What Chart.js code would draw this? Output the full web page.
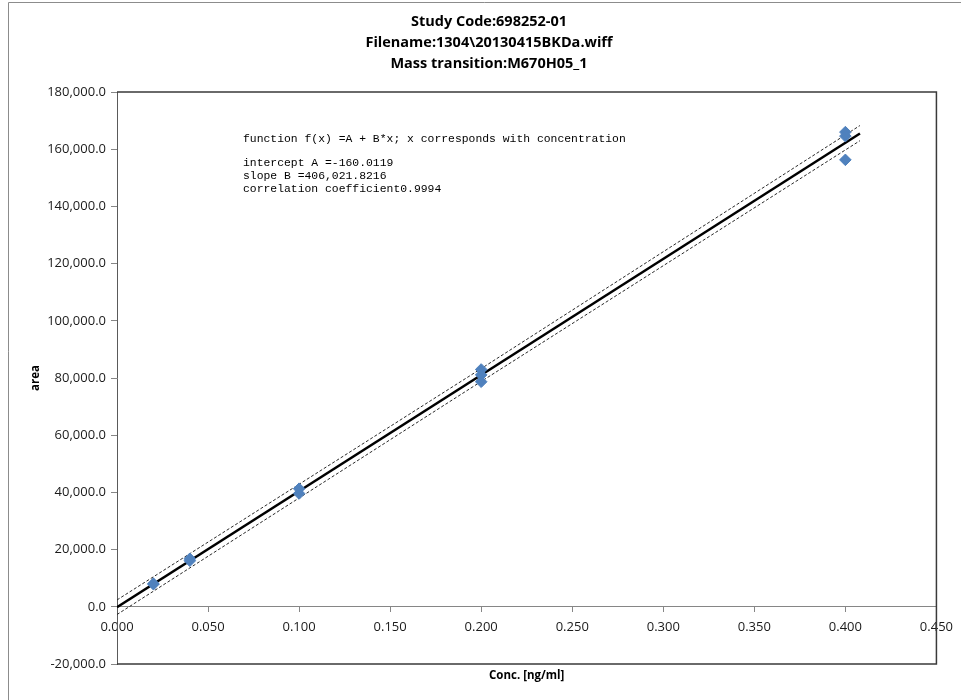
<!DOCTYPE html>
<html>
<head>
<meta charset="utf-8">
<script src="https://cdn.jsdelivr.net/npm/chart.js@4/dist/chart.umd.min.js"></script>
<style>
  html, body { margin: 0; padding: 0; background: #ffffff; }
  #wrap { width: 961px; height: 700px; position: relative; }
</style>
</head>
<body>
<div id="wrap"><canvas id="cal"></canvas></div>
<script>
// Calibration standards: nominal concentration [ng/ml] and measured peak area
const concentrations = [0.02, 0.02, 0.04, 0.04, 0.1, 0.1, 0.2, 0.2, 0.2, 0.4, 0.4, 0.4];
const areas = [7900, 8100, 16100, 16800, 39600, 41300, 83000, 81100, 78700, 166000, 164600, 156300];

// Linear fit f(x) = A + B*x
const FIT_INTERCEPT = -160.0119;
const FIT_SLOPE = 406021.8216;
const FIT_R = 0.9994;
const fitRange = [0, 0.408];

// Dashed confidence band around the fit
const bandX = [0, 0.2, 0.408];
const bandUpper = [2400, 83300, 168300];
const bandLower = [-2700, 78800, 163000];

// Axis ticks
const xTicks = { min: 0, max: 0.45, step: 0.05 };
const yTicks = { min: -20000, max: 180000, step: 20000 };

const titleLines = ['Study Code:698252-01', 'Filename:1304\\20130415BKDa.wiff', 'Mass transition:M670H05_1'];

const fmtArea = v => v.toLocaleString('en-US', { minimumFractionDigits: 1, maximumFractionDigits: 1 });
const fmtSlope = v => v.toLocaleString('en-US', { minimumFractionDigits: 4, maximumFractionDigits: 4 });

const annotationLines = [
  { text: 'function f(x) =A + B*x; x corresponds with concentration', dy: 0 },
  { text: 'intercept A =' + FIT_INTERCEPT.toFixed(4), dy: 24 },
  { text: 'slope B =' + fmtSlope(FIT_SLOPE), dy: 37 },
  { text: 'correlation coefficient' + FIT_R.toFixed(4), dy: 50 }
];

const points = concentrations.map((c, i) => ({ x: c, y: areas[i] }));
const fitLine = fitRange.map(x => ({ x: x, y: FIT_INTERCEPT + FIT_SLOPE * x }));
const upperLine = bandX.map((x, i) => ({ x: x, y: bandUpper[i] }));
const lowerLine = bandX.map((x, i) => ({ x: x, y: bandLower[i] }));

const LABEL_FONT = 'Open Sans';

// Outer chart frame, plot-area border and the fit summary text
const decorations = {
  id: 'decorations',
  beforeDraw(chart) {
    const ctx = chart.ctx;
    ctx.save();
    ctx.strokeStyle = '#8c8c8c';
    ctx.lineWidth = 1;
    ctx.beginPath();
    ctx.moveTo(8.5, chart.height);
    ctx.lineTo(8.5, 2.5);
    ctx.lineTo(chart.width, 2.5);
    ctx.stroke();
    ctx.restore();
  },
  afterDraw(chart) {
    const ctx = chart.ctx;
    const a = chart.chartArea;
    ctx.save();
    ctx.strokeStyle = '#3a3a3a';
    ctx.lineWidth = 1.5;
    ctx.beginPath();
    ctx.moveTo(a.left, a.top);
    ctx.lineTo(a.right, a.top);
    ctx.lineTo(a.right, a.bottom);
    ctx.lineTo(a.left, a.bottom);
    ctx.stroke();

    ctx.fillStyle = '#000000';
    ctx.font = '11.4px "Liberation Mono", "Courier New", monospace';
    ctx.textBaseline = 'middle';
    ctx.textAlign = 'left';
    annotationLines.forEach(l => ctx.fillText(l.text, a.left + 126, a.top + 47 + l.dy));
    ctx.restore();
  }
};

new Chart(document.getElementById('cal'), {
  type: 'scatter',
  data: {
    datasets: [
      {
        label: 'Standards',
        data: points,
        pointStyle: 'rectRot',
        pointRadius: 5.8,
        pointHoverRadius: 5.8,
        backgroundColor: '#4f81bd',
        borderColor: '#4f81bd',
        borderWidth: 1,
        order: 0
      },
      {
        type: 'line',
        label: 'Fit',
        data: fitLine,
        borderColor: '#000000',
        borderWidth: 2.5,
        pointRadius: 0,
        fill: false,
        order: 1
      },
      {
        type: 'line',
        label: 'Upper band',
        data: upperLine,
        borderColor: '#2a2a2a',
        borderWidth: 1,
        borderDash: [3, 2],
        pointRadius: 0,
        fill: false,
        order: 2
      },
      {
        type: 'line',
        label: 'Lower band',
        data: lowerLine,
        borderColor: '#2a2a2a',
        borderWidth: 1,
        borderDash: [3, 2],
        pointRadius: 0,
        fill: false,
        order: 2
      }
    ]
  },
  options: {
    responsive: true,
    maintainAspectRatio: false,
    animation: false,
    events: [],
    layout: { padding: { left: 17, right: 0, top: 0, bottom: 0 } },
    plugins: {
      legend: { display: false },
      tooltip: { enabled: false },
      title: {
        display: true,
        text: titleLines,
        color: '#000000',
        font: { family: LABEL_FONT, size: 14.5, weight: 'bold', lineHeight: 1.45 },
        padding: { top: 11.5, bottom: 17.5 }
      }
    },
    scales: {
      x: {
        type: 'linear',
        axis: 'x',
        min: xTicks.min,
        max: xTicks.max,
        position: { y: 0 },
        ticks: {
          stepSize: xTicks.step,
          color: '#1a1a1a',
          font: { family: LABEL_FONT, size: 13 },
          padding: 8,
          maxRotation: 0,
          callback: v => v.toFixed(3)
        },
        grid: { display: true, drawOnChartArea: false, drawTicks: true, tickLength: 5, color: '#868686' },
        border: { display: true, color: '#868686', width: 1 }
      },
      x2: {
        type: 'linear',
        axis: 'x',
        min: xTicks.min,
        max: xTicks.max,
        position: 'bottom',
        ticks: { display: false },
        grid: { display: false },
        border: { display: false },
        title: {
          display: true,
          text: 'Conc. [ng/ml]',
          color: '#000000',
          font: { family: LABEL_FONT, size: 11.5, weight: 'bold' },
          padding: { top: 0, bottom: 17 }
        },
        afterFit: s => { s.height = 36; }
      },
      y: {
        type: 'linear',
        min: yTicks.min,
        max: yTicks.max,
        position: 'left',
        ticks: {
          stepSize: yTicks.step,
          color: '#1a1a1a',
          font: { family: LABEL_FONT, size: 13 },
          padding: 5,
          callback: v => fmtArea(v)
        },
        grid: { display: true, drawOnChartArea: false, drawTicks: true, tickLength: 6, color: '#868686' },
        border: { display: true, color: '#5a5a5a', width: 1 },
        title: {
          display: true,
          text: 'area',
          color: '#000000',
          font: { family: LABEL_FONT, size: 11.5, weight: 'bold' },
          padding: { top: 12, bottom: 0 }
        },
        afterFit: s => { s.width = 100; }
      },
      y2: {
        type: 'linear',
        position: 'right',
        ticks: { display: false },
        grid: { display: false },
        border: { display: false },
        afterFit: s => { s.width = 23; }
      }
    }
  },
  plugins: [decorations]
});
</script>
</body>
</html>
